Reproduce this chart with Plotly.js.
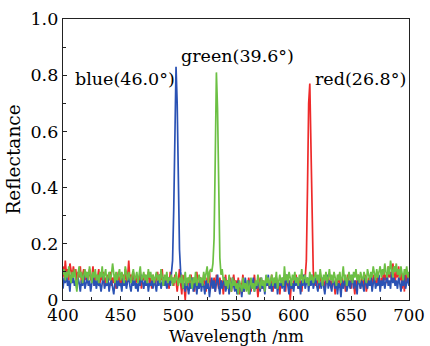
<!DOCTYPE html>
<html><head><meta charset="utf-8">
<script src="https://cdn.plot.ly/plotly-3.0.1.min.js"></script>
<style>html,body{margin:0;padding:0;background:#fff}#chart{width:430px;height:346px}</style>
</head><body><div id="chart"></div>
<script>
// wavelength grid start / step (nm)
var wlStart = 400, wlStep = 1;

var blue = [
0.04,0.08,0.06,0.10,0.05,0.07,0.03,0.09,0.06,0.08,
0.05,0.07,0.04,0.08,0.06,0.03,0.07,0.05,0.09,0.04,
0.06,0.08,0.05,0.07,0.03,0.06,0.09,0.05,0.07,0.04,
0.08,0.05,0.06,0.03,0.07,0.09,0.04,0.06,0.05,0.08,
0.03,0.06,0.07,0.05,0.02,0.06,0.08,0.04,0.07,0.05,
0.06,0.03,0.08,0.05,0.07,0.04,0.06,0.09,0.05,0.03,
0.07,0.05,0.08,0.04,0.06,0.03,0.07,0.05,0.09,0.06,
0.04,0.07,0.05,0.08,0.03,0.06,0.05,0.07,0.04,0.08,
0.06,0.03,0.07,0.05,0.09,0.04,0.06,0.08,0.05,0.07,
0.04,0.06,0.08,0.05,0.09,0.14,0.32,0.62,0.83,0.70,
0.42,0.18,0.10,0.07,0.04,0.06,0.03,0.07,0.05,0.02,
0.06,0.04,0.08,0.03,0.05,0.07,0.02,0.06,0.04,0.08,
0.03,0.06,0.05,0.02,0.07,0.04,0.06,0.01,0.05,0.08,
0.04,0.07,0.03,0.06,0.09,0.05,0.02,0.07,0.04,0.06,
0.08,0.03,0.05,0.07,0.02,0.06,0.04,0.08,0.05,0.03,
0.06,0.02,0.07,0.04,0.05,0.01,0.06,0.03,0.08,0.05,
0.04,0.07,0.02,0.06,0.05,0.08,0.03,0.06,0.04,0.07,
0.05,0.03,0.08,0.04,0.06,0.02,0.07,0.05,0.09,0.04,
0.06,0.03,0.07,0.05,0.04,0.08,0.02,0.06,0.05,0.07,
0.04,0.08,0.03,0.06,0.09,0.05,0.02,0.07,0.04,0.06,
0.03,0.07,0.05,0.08,0.04,0.06,0.02,0.07,0.05,0.09,
0.04,0.06,0.08,0.03,0.07,0.05,0.09,0.04,0.06,0.08,
0.05,0.03,0.07,0.06,0.04,0.08,0.05,0.02,0.06,0.09,
0.04,0.07,0.05,0.03,0.08,0.06,0.04,0.07,0.02,0.06,
0.05,0.01,0.07,0.04,0.06,0.08,0.03,0.05,0.07,0.04,
0.06,0.09,0.04,0.07,0.05,0.02,0.08,0.06,0.04,0.07,
0.05,0.03,0.08,0.06,0.04,0.07,0.05,0.09,0.03,0.06,
0.08,0.04,0.06,0.05,0.09,0.03,0.07,0.05,0.08,0.04,
0.06,0.09,0.05,0.07,0.04,0.10,0.06,0.08,0.05,0.07,
0.04,0.08,0.06,0.03,0.07,0.05,0.09,0.04,0.06,0.08,
0.05];

var red = [
0.12,0.08,0.14,0.09,0.11,0.07,0.13,0.10,0.08,0.12,
0.09,0.11,0.07,0.10,0.08,0.12,0.06,0.09,0.11,0.07,
0.10,0.06,0.09,0.11,0.07,0.08,0.12,0.05,0.09,0.07,
0.08,0.11,0.06,0.09,0.07,0.10,0.05,0.08,0.06,0.09,
0.07,0.10,0.05,0.08,0.06,0.09,0.04,0.07,0.10,0.06,
0.08,0.05,0.09,0.07,0.11,0.06,0.08,0.14,0.07,0.09,
0.06,0.10,0.07,0.05,0.09,0.08,0.06,0.10,0.04,0.08,
0.07,0.09,0.05,0.08,0.10,0.06,0.08,0.04,0.09,0.07,
0.05,0.08,0.10,0.06,0.09,0.07,0.11,0.05,0.08,0.06,
0.09,0.07,0.04,0.10,0.06,0.08,0.05,0.09,0.07,0.03,
0.08,0.11,0.06,0.02,0.09,0.05,0.00,0.07,0.04,0.08,
0.06,0.09,0.05,0.08,0.03,0.07,0.10,0.06,0.04,0.08,
0.07,0.05,0.09,0.06,0.03,0.08,0.06,0.10,0.04,0.07,
0.05,0.08,0.03,0.09,0.06,0.04,0.08,0.05,0.07,0.02,
0.06,0.09,0.04,0.07,0.05,0.08,0.03,0.06,0.09,0.05,
0.07,0.04,0.08,0.02,0.06,0.05,0.09,0.03,0.07,0.05,
0.04,0.08,0.06,0.03,0.07,0.05,0.09,0.04,0.06,0.01,
0.05,0.08,0.04,0.07,0.06,0.03,0.08,0.05,0.07,0.04,
0.06,0.09,0.03,0.07,0.05,0.08,0.04,0.06,0.02,0.07,
0.05,0.08,0.06,0.03,0.09,0.05,0.07,0.00,0.06,0.04,
0.07,0.05,0.09,0.06,0.04,0.08,0.06,0.03,0.07,0.09,
0.08,0.14,0.40,0.70,0.77,0.55,0.22,0.10,0.07,0.05,
0.08,0.06,0.04,0.09,0.07,0.05,0.08,0.03,0.07,0.06,
0.09,0.05,0.07,0.04,0.08,0.06,0.02,0.07,0.05,0.09,
0.06,0.04,0.08,0.05,0.07,0.03,0.06,0.09,0.05,0.07,
0.04,0.08,0.06,0.02,0.07,0.05,0.09,0.06,0.04,0.08,
0.07,0.05,0.09,0.03,0.06,0.08,0.05,0.07,0.04,0.09,
0.06,0.08,0.05,0.10,0.07,0.04,0.08,0.06,0.11,0.07,
0.09,0.06,0.12,0.08,0.10,0.07,0.13,0.09,0.06,0.11,
0.08,0.12,0.07,0.10,0.04,0.09,0.03,0.11,0.06,0.08,
0.10];

var green = [
0.09,0.11,0.07,0.10,0.08,0.12,0.09,0.06,0.10,0.08,
0.11,0.07,0.03,0.09,0.12,0.08,0.10,0.06,0.09,0.11,
0.08,0.10,0.07,0.12,0.09,0.06,0.10,0.08,0.11,0.07,
0.09,0.06,0.10,0.08,0.12,0.07,0.09,0.11,0.06,0.08,
0.10,0.07,0.09,0.13,0.08,0.06,0.10,0.07,0.09,0.11,
0.07,0.10,0.08,0.06,0.12,0.09,0.07,0.10,0.08,0.06,
0.09,0.11,0.07,0.08,0.10,0.06,0.09,0.12,0.07,0.08,
0.10,0.07,0.09,0.06,0.11,0.08,0.10,0.07,0.09,0.06,
0.08,0.10,0.07,0.09,0.06,0.11,0.08,0.05,0.09,0.07,
0.10,0.06,0.08,0.07,0.09,0.05,0.08,0.06,0.10,0.07,
0.05,0.08,0.06,0.09,0.04,0.07,0.10,0.05,0.08,0.06,
0.09,0.07,0.04,0.08,0.06,0.10,0.05,0.07,0.09,0.06,
0.08,0.05,0.10,0.07,0.09,0.12,0.06,0.10,0.11,0.10,
0.13,0.22,0.50,0.81,0.68,0.35,0.15,0.09,0.11,0.07,
0.08,0.05,0.07,0.04,0.09,0.06,0.03,0.08,0.05,0.07,
0.04,0.06,0.02,0.07,0.05,0.03,0.08,0.04,0.06,0.03,
0.07,0.02,0.05,0.08,0.04,0.06,0.03,0.07,0.05,0.09,
0.06,0.04,0.08,0.05,0.07,0.03,0.09,0.06,0.08,0.05,
0.07,0.09,0.05,0.08,0.06,0.10,0.04,0.07,0.09,0.06,
0.08,0.05,0.12,0.07,0.09,0.06,0.10,0.08,0.05,0.09,
0.07,0.10,0.06,0.08,0.05,0.09,0.07,0.11,0.06,0.08,
0.09,0.06,0.08,0.05,0.10,0.07,0.09,0.06,0.08,0.10,
0.07,0.09,0.06,0.11,0.08,0.05,0.09,0.07,0.10,0.06,
0.08,0.11,0.07,0.09,0.06,0.10,0.08,0.05,0.09,0.07,
0.10,0.06,0.08,0.12,0.07,0.09,0.05,0.08,0.10,0.07,
0.09,0.06,0.10,0.08,0.11,0.07,0.09,0.06,0.10,0.08,
0.07,0.10,0.08,0.06,0.11,0.09,0.07,0.10,0.08,0.12,
0.09,0.07,0.11,0.08,0.10,0.12,0.08,0.11,0.09,0.13,
0.10,0.08,0.12,0.09,0.14,0.11,0.08,0.12,0.10,0.13,
0.09,0.11,0.08,0.12,0.10,0.07,0.11,0.09,0.12,0.08,
0.10];

var labels = ["blue(46.0°)", "green(39.6°)", "red(26.8°)"];
var labelX = [454, 551, 658];
var labelY = [0.785, 0.868, 0.785];
var xTitle = "Wavelength /nm";

var F = "'DejaVu Serif', 'Liberation Serif', serif";
function tr(y, c) {
  return {type:'scatter', mode:'lines', x0:wlStart, dx:wlStep, y:y,
    line:{color:c, width:1.7}, hoverinfo:'skip', showlegend:false};
}
var data = [tr(red,'#ee2a2a'), tr(blue,'#2a52b4'), tr(green,'#6cc044')];

var ann = labels.map(function(t,i){
  return {x:labelX[i], y:labelY[i], xref:'x', yref:'y', text:t, showarrow:false,
    font:{family:F, size:17.5, color:'#000'}};
});
ann.push({x:0.5, y:0, xref:'paper', yref:'paper', yanchor:'top', yshift:-25, text:xTitle,
  showarrow:false, font:{family:F, size:16.5, color:'#000'}});

var layout = {
  width:430, height:346,
  margin:{l:63, r:21, t:19, b:46},
  paper_bgcolor:'#fff', plot_bgcolor:'#fff',
  font:{family:F, color:'#000'},
  showlegend:false,
  annotations: ann,
  xaxis:{range:[400,700], tickvals:[400,450,500,550,600,650,700], ticks:'inside',
    ticklen:4, tickwidth:1, tickcolor:'#222', showgrid:false, zeroline:false,
    showline:true, linecolor:'#222', linewidth:1.2, mirror:true,
    minor:{tickvals:[425,475,525,575,625,675], ticks:'inside', ticklen:3, tickcolor:'#222', showgrid:false},
    tickfont:{family:F, size:16.5, color:'#000'}},
  yaxis:{range:[0,1.0], tickvals:[0,0.2,0.4,0.6,0.8,1.0], ticktext:['0','0.2','0.4','0.6','0.8','1.0'],
    ticks:'inside', ticklen:4, tickwidth:1, tickcolor:'#222', showgrid:false, zeroline:false,
    showline:true, linecolor:'#222', linewidth:1.2, mirror:true,
    minor:{tickvals:[0.1,0.3,0.5,0.7,0.9], ticks:'inside', ticklen:3, tickcolor:'#222', showgrid:false},
    tickfont:{family:F, size:17.5, color:'#000'},
    title:{text:'Reflectance', font:{family:F, size:18.5, color:'#000'}, standoff:5}}
};
Plotly.newPlot('chart', data, layout, {displayModeBar:false, staticPlot:true});
</script></body></html>
